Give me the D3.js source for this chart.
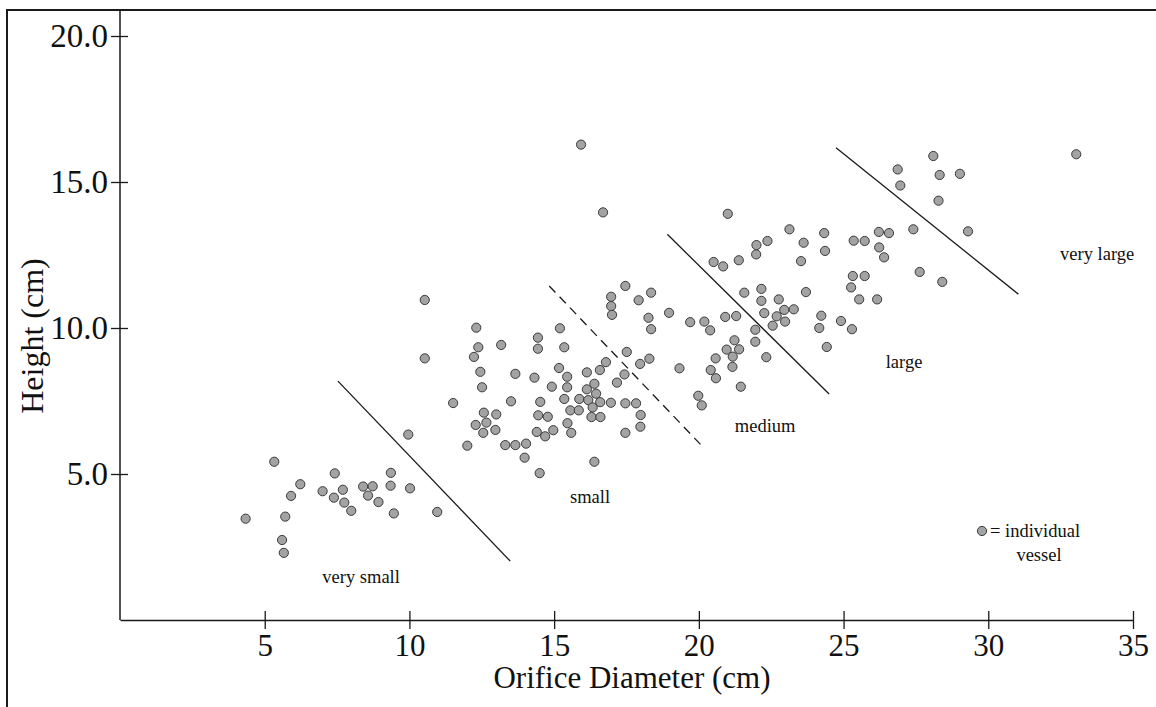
<!DOCTYPE html>
<html>
<head>
<meta charset="utf-8">
<script src="https://cdnjs.cloudflare.com/ajax/libs/d3/7.8.5/d3.min.js"></script>
<style>
    html, body { margin: 0; padding: 0; background: #fff; }
    svg { display: block; font-family: "Liberation Serif", "Times New Roman", serif; }
</style>
</head>
<body>
<div id="chart"></div>
<script>
// axis ticks
const xTicks = [5, 10, 15, 20, 25, 30, 35];
const yTicks = [5, 10, 15, 20];

// [orifice diameter, height] in cm, one per vessel
const vessels = [
    [4.34, 3.47], [5.33, 5.42], [5.60, 2.74], [5.66, 2.30], [5.71, 3.54], [5.91, 4.25], [6.23, 4.65],
    [7.00, 4.41], [7.42, 5.02], [7.39, 4.19], [7.70, 4.46], [7.75, 4.02], [7.99, 3.74], [8.40, 4.57],
    [8.73, 4.58], [8.57, 4.26], [8.93, 4.04], [9.36, 5.04], [9.35, 4.60], [9.46, 3.65], [10.02, 4.51],
    [9.96, 6.35], [10.96, 3.70], [10.53, 10.96], [10.53, 8.96],
    [11.51, 7.43], [12.00, 5.97], [12.31, 10.01], [12.38, 9.34], [12.23, 9.01], [13.17, 9.42], [12.45, 8.50],
    [12.51, 7.97], [12.57, 7.10], [13.00, 7.04], [12.66, 6.76], [12.29, 6.68], [12.55, 6.41], [12.97, 6.51],
    [13.31, 5.99], [13.66, 5.99], [14.03, 6.04], [13.98, 5.56], [13.51, 7.49], [13.66, 8.43], [14.32, 8.30],
    [14.44, 9.67], [14.44, 9.29], [14.52, 7.47], [14.45, 7.01], [14.78, 6.96], [14.40, 6.44], [14.69, 6.29],
    [14.97, 6.50], [14.50, 5.03], [15.20, 9.99], [15.35, 9.34], [15.17, 8.63], [15.45, 8.33], [14.92, 7.99],
    [15.45, 7.97], [15.35, 7.57], [15.56, 7.18], [15.85, 7.18], [15.46, 6.74], [15.59, 6.41], [15.87, 7.57],
    [16.18, 7.53], [16.13, 8.48], [16.13, 7.90], [16.39, 8.09], [16.45, 7.75], [16.33, 7.28], [16.29, 6.95],
    [16.60, 6.95], [16.59, 7.46], [16.58, 8.56], [16.79, 8.83], [16.96, 7.44], [17.17, 8.13], [17.43, 8.41],
    [17.51, 9.18], [17.46, 7.42], [17.83, 7.42], [17.46, 6.41], [17.99, 7.02], [17.98, 6.62], [17.97, 8.77],
    [18.29, 8.95], [16.39, 5.42], [15.93, 16.28], [16.69, 13.96], [17.46, 11.44], [16.97, 11.07], [16.97, 10.75],
    [17.00, 10.45], [17.92, 10.95], [18.35, 11.21], [18.26, 10.35], [18.35, 9.96], [18.97, 10.52],
    [19.70, 10.20], [20.19, 10.22], [20.39, 9.92], [19.33, 8.62], [20.58, 8.96], [20.41, 8.56], [20.59, 8.28],
    [19.98, 7.68], [20.10, 7.35], [20.91, 10.38], [21.29, 10.41], [21.23, 9.58], [20.96, 9.26], [21.39, 9.27],
    [21.17, 9.02], [21.16, 8.67], [21.45, 7.99], [21.95, 9.94], [21.95, 9.53], [22.33, 9.00], [21.57, 11.21],
    [22.16, 11.34], [22.16, 10.93], [22.76, 10.98], [22.26, 10.51], [22.69, 10.40], [22.95, 10.62], [23.28, 10.64],
    [22.55, 10.08], [22.98, 10.22], [20.51, 12.26], [20.84, 12.11], [21.38, 12.32], [21.00, 13.91], [21.99, 12.84],
    [21.98, 12.52], [22.37, 12.98], [23.13, 13.38], [23.62, 12.92], [23.53, 12.29], [23.70, 11.23], [24.33, 13.25],
    [24.36, 12.64], [24.23, 10.42], [24.16, 10.00], [24.91, 10.24], [25.29, 9.96], [24.42, 9.35],
    [25.35, 12.99], [25.73, 12.98], [26.22, 13.29], [26.57, 13.25], [26.23, 12.76], [26.40, 12.42], [27.41, 13.38],
    [25.32, 11.78], [25.73, 11.78], [25.26, 11.39], [25.54, 10.98], [26.16, 10.98], [27.63, 11.92], [28.41, 11.58],
    [26.87, 15.43], [26.96, 14.88], [28.10, 15.89], [28.32, 15.24], [29.02, 15.28], [28.28, 14.36], [29.30, 13.31],
    [33.04, 15.95]
];

// size-class boundaries (data units)
const boundaries = [
    { x1: 7.53, y1: 8.18, x2: 13.48, y2: 2.02, dashed: false },
    { x1: 14.83, y1: 11.44, x2: 20.08, y2: 5.99, dashed: true },
    { x1: 18.91, y1: 13.21, x2: 24.50, y2: 7.74, dashed: false },
    { x1: 24.74, y1: 16.17, x2: 31.04, y2: 11.16, dashed: false }
];

const classNames = ['very small', 'small', 'medium', 'large', 'very large'];
const classX = [8.33, 16.24, 22.29, 27.09, 33.76];
const classY = [1.27, 4.01, 6.44, 8.63, 12.33];

const width = 1156, height = 707;
const ink = '#1a1a1a';

const svg = d3.select('#chart').append('svg')
    .attr('width', width)
    .attr('height', height);

const x = d3.scaleLinear().domain([0, 35]).range([120, 1133]);
const y = d3.scaleLinear().domain([0, 20]).range([620, 36]);

// outer frame (top + left)
svg.append('path')
    .attr('d', 'M7,707V10H1156')
    .attr('fill', 'none')
    .attr('stroke', ink)
    .attr('stroke-width', 2);

// x axis
const xAxis = svg.append('g')
    .attr('transform', `translate(0,${y(0)})`)
    .call(d3.axisBottom(x).tickValues(xTicks).tickSize(9).tickSizeOuter(0).tickFormat(d3.format('d')))
    .attr('font-family', null)
    .attr('font-size', null);
xAxis.select('.domain').attr('stroke', ink).attr('stroke-width', 1.5);
xAxis.selectAll('.tick line').attr('y1', -9).attr('y2', 9).attr('stroke', ink).attr('stroke-width', 1.3);
xAxis.selectAll('.tick text')
    .attr('y', 36)
    .attr('dy', 0)
    .attr('fill', '#111')
    .style('font-size', '31px');

// y axis
const yAxis = svg.append('g')
    .attr('transform', `translate(${x(0)},0)`)
    .call(d3.axisLeft(y).tickValues(yTicks).tickSize(9).tickFormat(d3.format('.1f')))
    .attr('font-family', null)
    .attr('font-size', null);
yAxis.select('.domain').remove();
yAxis.selectAll('.tick line').attr('x1', -9).attr('x2', 8).attr('stroke', ink).attr('stroke-width', 1.3);
yAxis.selectAll('.tick text')
    .attr('x', -12)
    .attr('dy', '0.32em')
    .attr('fill', '#111')
    .style('font-size', '33px');

svg.append('line')
    .attr('x1', x(0)).attr('x2', x(0))
    .attr('y1', 10).attr('y2', y(0))
    .attr('stroke', ink)
    .attr('stroke-width', 1.5);

// axis titles
svg.append('text')
    .attr('x', 632)
    .attr('y', 688)
    .attr('text-anchor', 'middle')
    .attr('fill', '#111')
    .style('font-size', '31px')
    .text('Orifice Diameter (cm)');

svg.append('text')
    .attr('transform', 'translate(43,336) rotate(-90)')
    .attr('text-anchor', 'middle')
    .attr('fill', '#111')
    .style('font-size', '32px')
    .text('Height (cm)');

// class boundaries
svg.append('g').selectAll('line')
    .data(boundaries)
    .join('line')
    .attr('x1', d => x(d.x1))
    .attr('y1', d => y(d.y1))
    .attr('x2', d => x(d.x2))
    .attr('y2', d => y(d.y2))
    .attr('stroke', ink)
    .attr('stroke-width', 1.3)
    .attr('stroke-dasharray', d => d.dashed ? '9,6' : null);

// class labels
svg.append('g').selectAll('text')
    .data(classNames)
    .join('text')
    .attr('x', (d, i) => x(classX[i]))
    .attr('y', (d, i) => y(classY[i]))
    .attr('text-anchor', 'middle')
    .attr('fill', '#111')
    .style('font-size', '18.5px')
    .text(d => d);

// vessels
svg.append('g').selectAll('circle')
    .data(vessels)
    .join('circle')
    .attr('cx', d => x(d[0]))
    .attr('cy', d => y(d[1]))
    .attr('r', 4.6)
    .attr('fill', '#a3a3a3')
    .attr('stroke', '#3a3a3a')
    .attr('stroke-width', 1);

// legend
const legend = svg.append('g').attr('transform', 'translate(982,531)');
legend.append('circle')
    .attr('r', 4.6)
    .attr('fill', '#a3a3a3')
    .attr('stroke', '#3a3a3a')
    .attr('stroke-width', 1);
legend.append('text')
    .attr('x', 8)
    .attr('y', 6)
    .attr('fill', '#111')
    .style('font-size', '18.5px')
    .text('= individual');
legend.append('text')
    .attr('x', 57)
    .attr('y', 30)
    .attr('text-anchor', 'middle')
    .attr('fill', '#111')
    .style('font-size', '18.5px')
    .text('vessel');
</script>
</body>
</html>
